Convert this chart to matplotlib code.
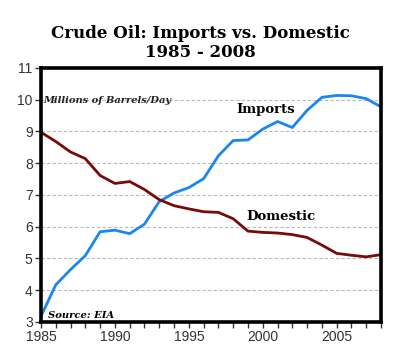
import matplotlib
matplotlib.use("Agg")
import matplotlib.pyplot as plt
from matplotlib.ticker import MultipleLocator

years = list(range(1985, 2009))
imports = [3.18, 4.17, 4.65, 5.09, 5.84, 5.89, 5.78, 6.08, 6.79, 7.06, 7.23, 7.51,
           8.23, 8.71, 8.73, 9.07, 9.31, 9.12, 9.66, 10.07, 10.13, 10.12, 10.03, 9.77]
domestic = [8.97, 8.68, 8.35, 8.14, 7.61, 7.36, 7.42, 7.17, 6.85, 6.66, 6.56, 6.47,
            6.45, 6.25, 5.86, 5.82, 5.80, 5.75, 5.66, 5.42, 5.16, 5.10, 5.05, 5.12]

fig = plt.figure(figsize=(4.0, 3.55), dpi=100)
ax = fig.add_axes([0.1025, 0.093, 0.85, 0.716])

serif = ['DejaVu Serif']
sans = ['Liberation Sans', 'DejaVu Sans']

fig.text(0.5, 0.88, "Crude Oil: Imports vs. Domestic\n1985 - 2008", ha='center', va='center',
         fontsize=12, fontweight='bold', family=serif, linespacing=1.15)

for y in range(4, 11):
    ax.axhline(y, color='#b8b8b8', lw=0.8, ls=(0, (3, 2)), zorder=0)

ax.plot(years, imports, color='#1a86f0', lw=2.0, solid_capstyle='butt')
ax.plot(years, domestic, color='#7a0a0a', lw=2.0, solid_capstyle='butt')

ax.set_xlim(1985, 2008)
ax.set_ylim(3, 11)
ax.xaxis.set_major_locator(MultipleLocator(5))
ax.xaxis.set_minor_locator(MultipleLocator(1))
ax.yaxis.set_major_locator(MultipleLocator(1))
ax.tick_params(axis='both', which='both', direction='out', length=4, width=1, color='#333333',
               labelsize=10, labelcolor='#333333', pad=2)
for lab in ax.get_xticklabels() + ax.get_yticklabels():
    lab.set_family(sans)
for s in ax.spines.values():
    s.set_linewidth(2.6)
    s.set_color('black')

ax.text(1985.15, 9.96, "Millions of Barrels/Day", fontsize=7.1, fontstyle='italic', fontweight='bold',
        family=serif, va='center', ha='left', color='#222222')
ax.text(2000.2, 9.7, "Imports", fontsize=9.5, fontweight='bold', family=serif, ha='center', va='center')
ax.text(2001.2, 6.33, "Domestic", fontsize=9.5, fontweight='bold', family=serif, ha='center', va='center')
ax.text(1985.45, 3.2, "Source: EIA", fontsize=7.2, fontstyle='italic', fontweight='bold',
        family=serif, ha='left', va='center')

fig.savefig("out.png", dpi=100)
